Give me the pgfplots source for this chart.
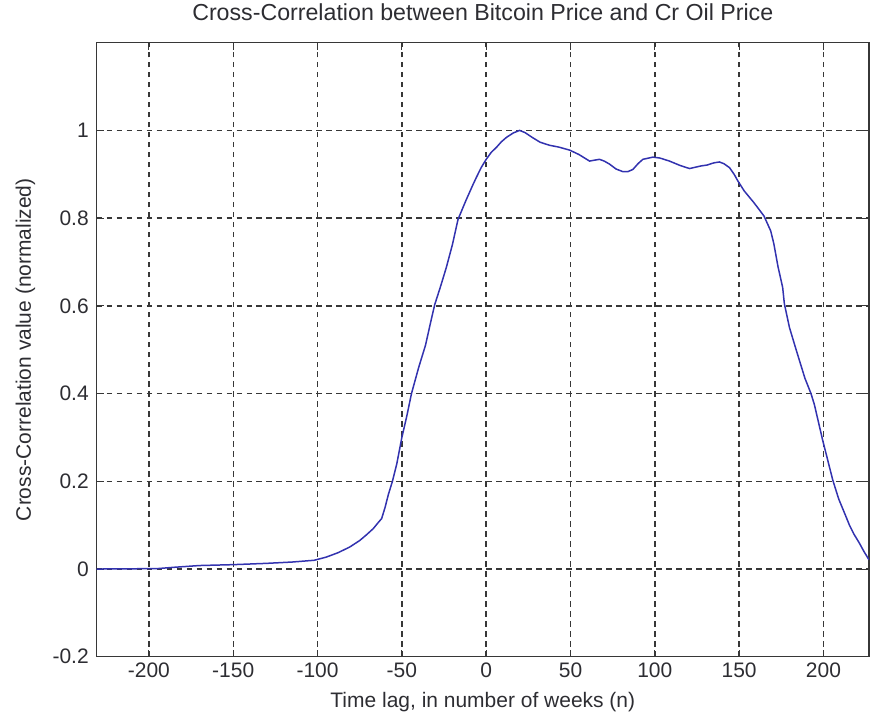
\documentclass[border=0pt]{standalone}
\usepackage{pgfplots}
\pgfplotsset{compat=1.18}
\usepackage{fontspec}
\setmainfont{Liberation Sans}
\definecolor{txt}{RGB}{45,45,50}
\definecolor{gridc}{RGB}{55,55,55}
\definecolor{curve}{RGB}{50,50,175}
\begin{document}
\begin{tikzpicture}
\begin{axis}[
  scale only axis,
  width=773bp, height=614.6bp,
  xmin=-231, xmax=227,
  ymin=-0.2, ymax=1.2,
  xtick={-200,-150,-100,-50,0,50,100,150,200},
  ytick={-0.2,0,0.2,0.4,0.6,0.8,1},
  /pgf/number format/assume math mode=true,
  /pgf/number format/fixed,
  tick align=inside,
  major tick length=7bp,
  xtick pos=both, ytick pos=both,
  tick style={color=gridc, line width=0.9bp},
  axis line style={color=gridc, line width=1.3bp},
  grid=major,
  major grid style={color=gridc, line width=1.4bp, dash pattern=on 5.5bp off 4.5bp},
  ticklabel style={font=\fontsize{21bp}{24bp}\selectfont, text=txt},
  xticklabel style={anchor=base, inner sep=0pt, yshift=-21bp},
  yticklabel style={anchor=east, inner sep=0pt, xshift=-7.7bp},
  title={Cross-Correlation between Bitcoin Price and Cr Oil Price},
  title style={at={(axis description cs:0.5,1.0262)}, anchor=base, inner sep=0pt, font=\fontsize{23.2bp}{26bp}\selectfont, text=txt},
  xlabel={Time lag, in number of weeks (n)},
  xlabel style={at={(axis description cs:0.5,-0.0820)}, anchor=base, inner sep=0pt, font=\fontsize{21bp}{24bp}\selectfont, text=txt},
  ylabel={Cross-Correlation value (normalized)},
  ylabel style={at={(axis description cs:-0.0850,0.5)}, anchor=base, inner sep=0pt, font=\fontsize{21bp}{24bp}\selectfont, text=txt},
]
\addplot[color=curve, line width=1.5bp] table {
x y
-231 0
-195 0.001
-185 0.004
-170 0.008
-150 0.010
-130 0.013
-115 0.016
-102 0.020
-95 0.027
-88 0.037
-81 0.050
-75 0.065
-71 0.078
-67 0.092
-64 0.106
-62 0.115
-60 0.14
-58 0.17
-55.6 0.2
-53 0.24
-50 0.3
-47 0.35
-44.3 0.4
-40 0.46
-36 0.51
-32.5 0.57
-30.5 0.603
-27 0.645
-23.6 0.688
-20 0.74
-16.7 0.797
-14 0.822
-11.7 0.843
-8 0.875
-5.8 0.893
-3 0.915
0 0.934
3 0.95
6 0.961
9 0.974
12 0.984
16 0.994
19.8 1.0
23 0.995
27.7 0.983
32 0.973
37.6 0.966
43 0.962
49.5 0.955
55 0.945
61.3 0.930
64 0.932
67.2 0.934
70 0.930
73.2 0.923
77 0.912
81 0.906
84 0.906
87 0.911
90 0.924
92.9 0.934
98.8 0.939
103 0.937
108.7 0.930
115 0.92
120.6 0.913
124 0.916
127.4 0.919
131 0.921
135 0.926
138.3 0.928
141 0.924
144.3 0.915
147 0.9
149.2 0.885
153 0.862
158.8 0.835
164.7 0.805
168.7 0.771
170.6 0.741
173 0.69
175.8 0.642
176.8 0.605
179.8 0.551
183 0.51
185.7 0.476
189 0.435
192.6 0.4
194.6 0.375
199.5 0.294
205.5 0.203
209 0.16
213.4 0.119
215.4 0.1
218 0.08
221.3 0.059
224 0.04
227 0.021
};
\end{axis}
\pgfresetboundingbox
\path ([shift={(-96.7bp,-65.7bp)}]current axis.south west) rectangle ([shift={(1bp,42.7bp)}]current axis.north east);
\end{tikzpicture}
\end{document}
